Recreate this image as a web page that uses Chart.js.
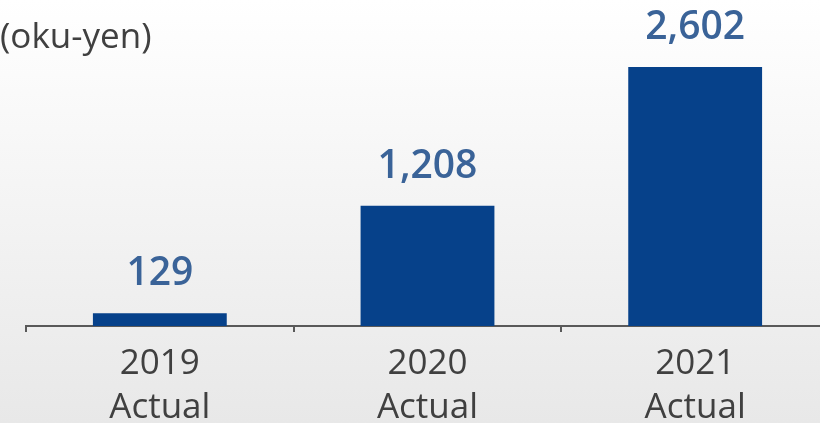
<!DOCTYPE html>
<html>
<head>
<meta charset="utf-8">
<script src="https://cdn.jsdelivr.net/npm/chart.js@4/dist/chart.umd.min.js"></script>
<style>
    html, body {
        margin: 0;
        padding: 0;
        overflow: hidden;
        width: 820px;
        height: 423px;
        background: linear-gradient(to bottom, #ffffff 0%, #e8e8e8 100%);
    }
    #wrap {
        position: relative;
        width: 830px;
        height: 423px;
    }
</style>
</head>
<body>
<div id="wrap"><canvas id="sales-chart"></canvas></div>
<script>
// data
const years = ['2019', '2020', '2021'];
const kind = 'Actual';
const values = [129, 1208, 2602];
const unitLabel = '(oku-yen)';

const textGray = '#404040';
const barBlue = '#06418a';
const labelBlue = '#3a6398';
const axisGray = '#595959';

// labels au-dessus des barres + unité
const labelsPlugin = {
    id: 'valueLabels',
    afterDatasetsDraw(chart) {
        const ctx = chart.ctx;
        const meta = chart.getDatasetMeta(0);
        ctx.save();
        ctx.font = '600 39px "Open Sans"';
        ctx.fillStyle = labelBlue;
        ctx.textAlign = 'center';
        ctx.textBaseline = 'middle';
        meta.data.forEach(function(bar, i) {
            ctx.fillText(values[i].toLocaleString('en-US'), bar.x, bar.y - 39);
        });

        ctx.font = '35px "Open Sans"';
        ctx.fillStyle = textGray;
        ctx.textAlign = 'left';
        ctx.fillText(unitLabel, 0, 38);
        ctx.restore();
    }
};

const ctx = document.getElementById('sales-chart').getContext('2d');
new Chart(ctx, {
    type: 'bar',
    data: {
        labels: years.map(function(y) { return [y, kind]; }),
        datasets: [{
            data: values,
            backgroundColor: barBlue,
            borderWidth: 0,
            categoryPercentage: 1,
            barPercentage: 0.5
        }]
    },
    options: {
        responsive: true,
        maintainAspectRatio: false,
        animation: false,
        layout: {
            padding: { left: 26, right: 1, top: 27.4, bottom: 0 }
        },
        plugins: {
            legend: { display: false },
            tooltip: { enabled: false }
        },
        scales: {
            y: {
                display: false,
                min: 0,
                max: 3000
            },
            x: {
                afterFit: function(scale) { scale.height = 97; },
                border: { display: true, color: axisGray, width: 2 },
                grid: {
                    display: true,
                    drawOnChartArea: false,
                    drawTicks: true,
                    tickLength: 6,
                    color: axisGray,
                    lineWidth: 2
                },
                ticks: {
                    color: textGray,
                    padding: 10,
                    maxRotation: 0,
                    font: { family: '"Open Sans"', size: 35, lineHeight: 1.25 }
                }
            }
        }
    },
    plugins: [labelsPlugin]
});
</script>
</body>
</html>
